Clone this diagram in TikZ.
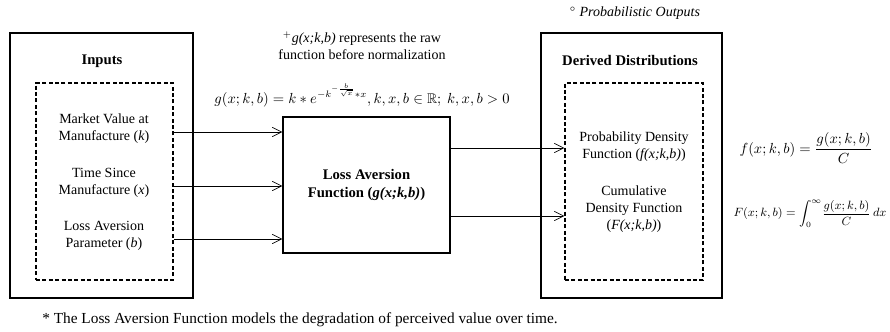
\documentclass[tikz,border=0pt]{standalone}
\usepackage{amsmath,amssymb}
\usepackage{fontspec}
\setmainfont{Liberation Serif}
\usetikzlibrary{arrows.meta,positioning}

\begin{document}
\begin{tikzpicture}[x=0.75pt,y=-0.75pt,
  every node/.style={font=\fontsize{10.5}{12.75}\selectfont},
  outerbox/.style={draw,line width=1.3pt,minimum width=#1,minimum height=198.75pt},
  dashbox/.style={draw,line width=1pt,dashed,dash pattern=on 3pt off 1.8pt,minimum width=#1,minimum height=147.75pt},
  title/.style={font=\fontsize{11}{13}\selectfont\bfseries},
  txt/.style={align=center,inner sep=0pt},
  feed/.style={-{Straight Barb[length=7pt,width=7pt]},line width=0.5pt}]
\useasboundingbox (0,0) rectangle (890,332);

% boxes
\node[outerbox=137.25pt] (inbox) at (101.5,165.5) {};
\node[dashbox=102.75pt] (indash) at (104.5,181.5) {};
\node[outerbox=135.75pt] (outbox) at (631.5,165.5) {};
\node[dashbox=103.5pt] (outdash) at (634,181.5) {};
\node[draw,line width=1.1pt,minimum width=125.25pt,minimum height=102pt,txt,
  font=\fontsize{11}{13}\selectfont\bfseries] (loss) at (366.5,185)
  {Loss Aversion\\Function (\textit{g(x;k,b)})};

% titles
\node[title] (intitle) at (102,61) {Inputs};
\node[title] (outtitle) at (630,61) {Derived Distributions};

% inputs
\node[txt] (in1) at (104,129) {Market Value at\\Manufacture (\textit{k})};
\node[txt] (in2) at (104,183) {Time Since\\Manufacture (\textit{x})};
\node[txt] (in3) at (104,236) {Loss Aversion\\Parameter (\textit{b})};

% outputs
\node[txt] (pdf) at (634,147) {Probability Density\\Function (\textit{f(x;k,b)})};
\node[txt] (cdf) at (634,209) {Cumulative\\Density Function\\(\textit{F(x;k,b)})};

% arrow levels
\coordinate (a1) at (0,132);
\coordinate (a2) at (0,186);
\coordinate (a3) at (0,239);
\coordinate (b1) at (0,148);
\coordinate (b2) at (0,216);

\foreach \a in {a1,a2,a3}
  \draw[feed] (indash.east |- \a) -- (loss.west |- \a);
\foreach \b in {b1,b2}
  \draw[feed] (loss.east |- \b) -- (outdash.west |- \b);

% notes
\node[txt] (rawnote) at (362,46) {$^{+}$\textit{g(x;k,b)} represents the raw\\function before normalization};
\node[inner sep=0pt,anchor=base] (gdef) at (362,103)
  {$g(x;k,b)=k\ast e^{-k^{-\frac{b}{\sqrt{x}}}\ast x}, k,x,b\in\mathbb{R};\ k,x,b>0$};
\node[inner sep=0pt,font=\fontsize{10.5}{12.75}\itshape] (probnote) at (635,13) {$^{\circ}$ Probabilistic Outputs};
\node[inner sep=0pt] (fdef) at (806,148) {$f(x;k,b)=\dfrac{g(x;k,b)}{C}$};
\node[inner sep=0pt,font=\fontsize{9}{11}\selectfont] (Fdef) at (810,214)
  {$F(x;k,b)=\displaystyle\int_0^{\infty}\!\frac{g(x;k,b)}{C}\,dx$};
\node[inner sep=0pt,font=\fontsize{11.5}{13}\selectfont] (footnote) at (300,320) {* The Loss Aversion Function models the degradation of perceived value over time.};
\end{tikzpicture}
\end{document}
